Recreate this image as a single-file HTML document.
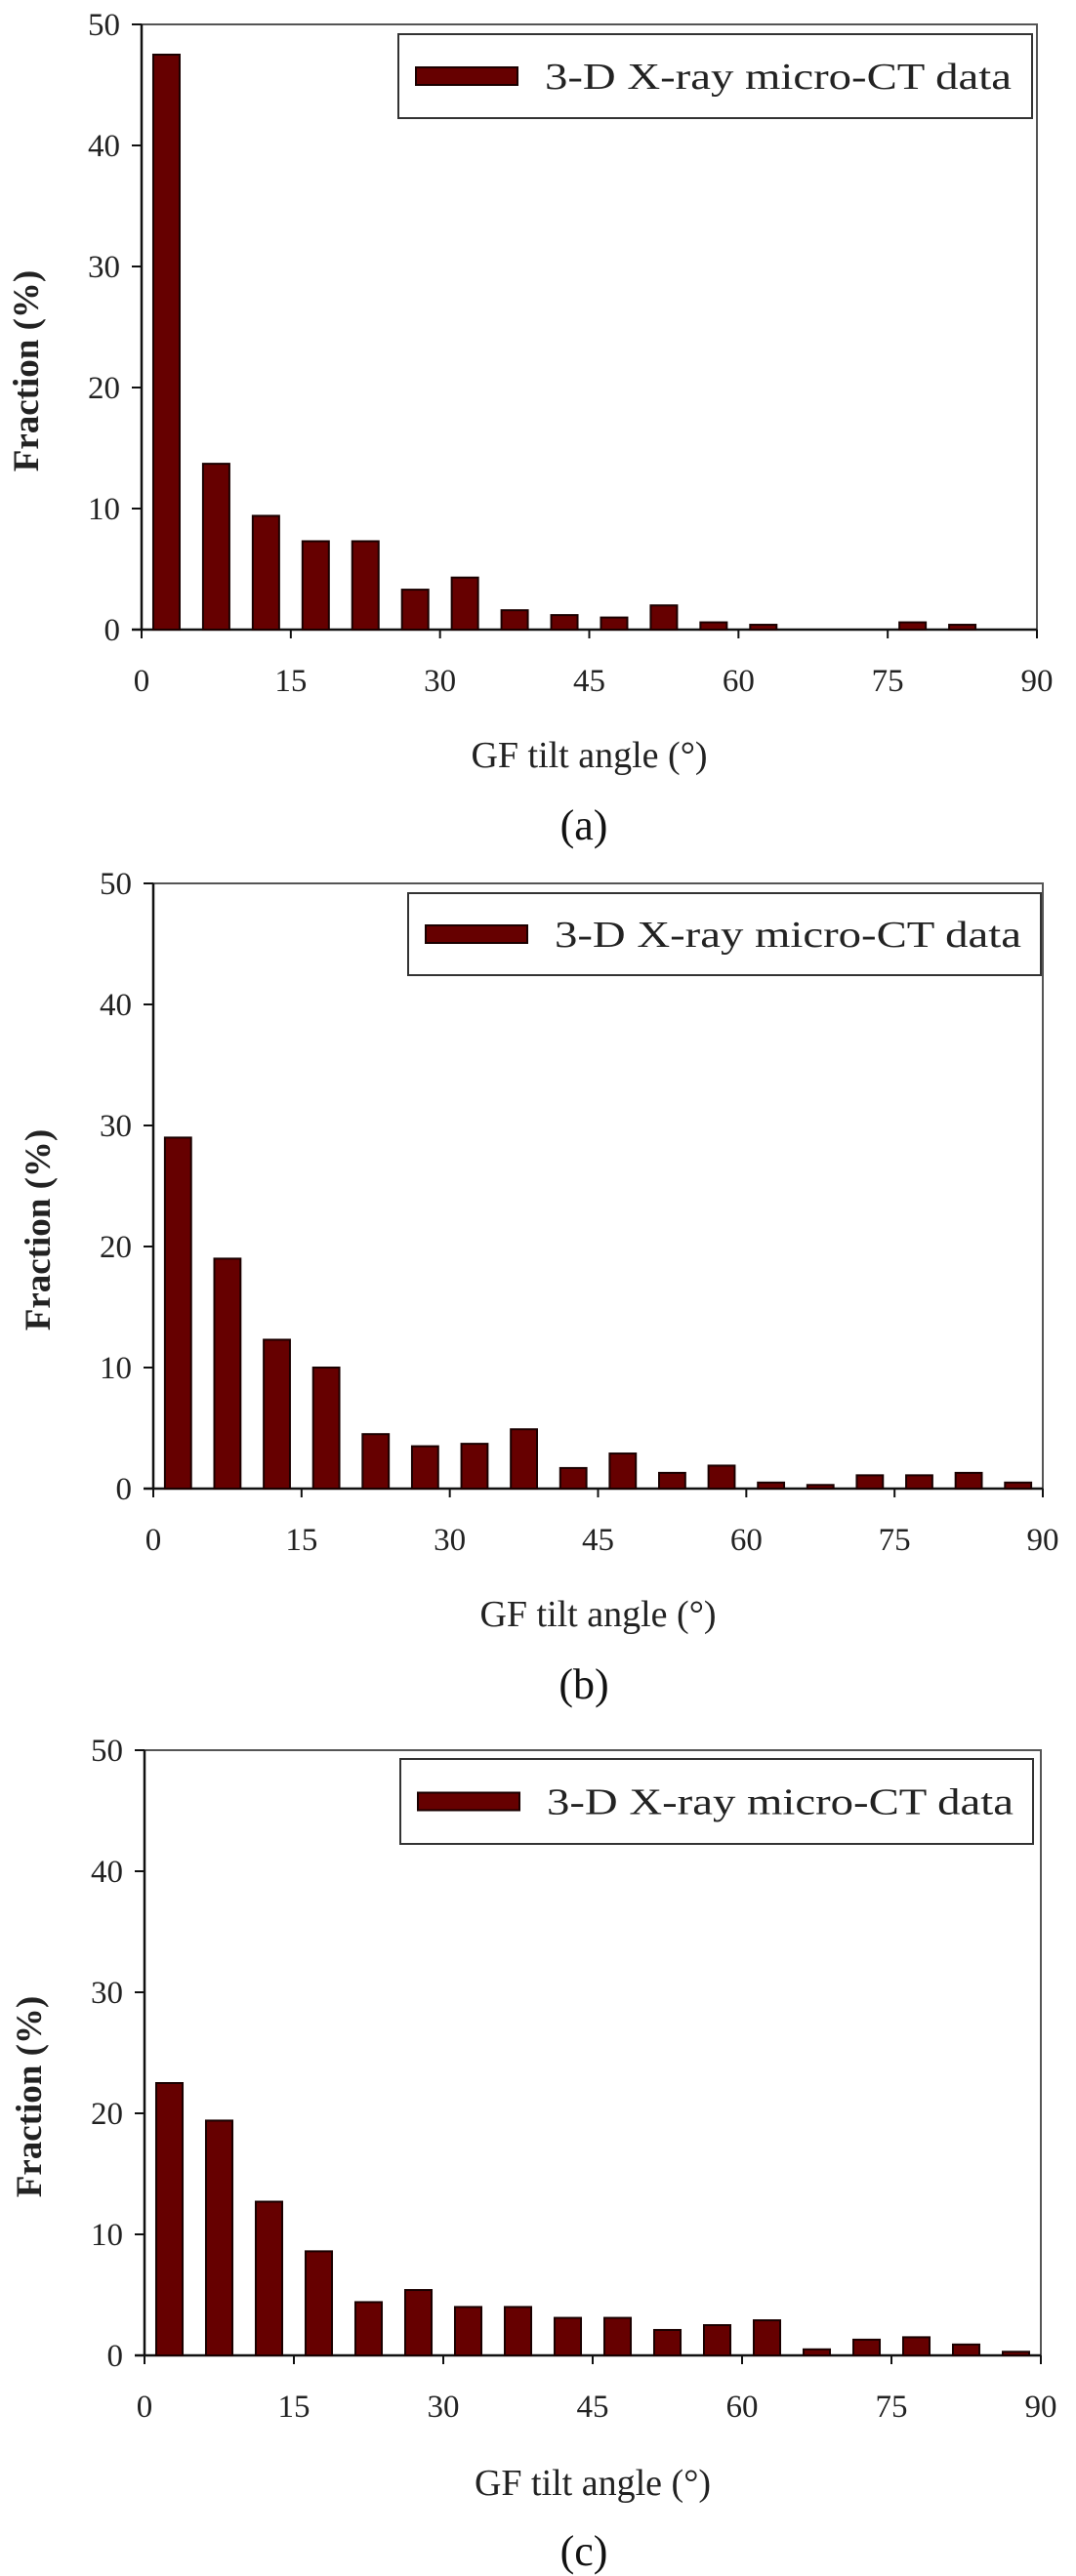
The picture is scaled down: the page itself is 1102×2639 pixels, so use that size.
<!DOCTYPE html>
<html><head><meta charset="utf-8"><style>
html,body{margin:0;padding:0;background:#fff;}
svg{display:block;font-family:"Liberation Serif",serif;}
</style></head><body>
<svg id="fig" width="1102" height="2639" viewBox="0 0 1102 2639" xmlns="http://www.w3.org/2000/svg"></svg>
<script>
const categories = [2.5,7.5,12.5,17.5,22.5,27.5,32.5,37.5,42.5,47.5,52.5,57.5,62.5,67.5,72.5,77.5,82.5,87.5];
const seriesA = [47.5,13.7,9.4,7.3,7.3,3.3,4.3,1.6,1.2,1.0,2.0,0.6,0.4,0,0,0.6,0.4,0];
const seriesB = [29,19,12.3,10,4.5,3.5,3.7,4.9,1.7,2.9,1.3,1.9,0.5,0.3,1.1,1.1,1.3,0.5];
const seriesC = [22.5,19.4,12.7,8.6,4.4,5.4,4.0,4.0,3.1,3.1,2.1,2.5,2.9,0.5,1.3,1.5,0.9,0.3];
const xTicks = [0,15,30,45,60,75,90];
const yTicks = [0,10,20,30,40,50];
const panelLabels = ["(a)","(b)","(c)"];

const NS="http://www.w3.org/2000/svg";
const svg=document.getElementById('fig');
function mk(tag,attrs,parent){const e=document.createElementNS(NS,tag);for(const k in attrs)e.setAttribute(k,attrs[k]);(parent||svg).appendChild(e);return e;}

const panels=[
 {data:seriesA,l:145,r:1062,t:25,b:645,leg:[408,35,1057,121],tickY:708,titleY:786,capY:860},
 {data:seriesB,l:157,r:1068,t:905,b:1525,leg:[418,915,1066,999],tickY:1588,titleY:1666,capY:1740},
 {data:seriesC,l:148,r:1066,t:1793,b:2413,leg:[410,1802,1058,1889],tickY:2476,titleY:2556,capY:2628}
];

panels.forEach((p,i)=>{
  const g=mk('g',{});
  
  
  const xs=v=>p.l+(v/90)*(p.r-p.l);
  const ys=v=>p.b-(v/50)*(p.b-p.t);
  // frame
  const fr=mk('rect',{x:p.l,y:p.t,width:p.r-p.l,height:p.b-p.t,fill:'none',stroke:'#555','stroke-width':2},g);
  
  
  const ax=mk('line',{x1:p.l,y1:p.t,x2:p.l,y2:p.b,stroke:'#111','stroke-width':2.5},g);
  
  
  const bx=mk('line',{x1:p.l-10,y1:p.b,x2:p.r,y2:p.b,stroke:'#111','stroke-width':2.5},g);
  
  
  // bars
  const slot=(p.r-p.l)/18, bw=slot*0.53;
  categories.forEach((c,j)=>{
    const v=p.data[j]; if(v<=0) return;
    const y=ys(v);
    const b=mk('rect',{x:xs(c)-bw/2,y:y,width:bw,height:p.b-y,fill:'#660000',stroke:'#1a0000','stroke-width':2},g);
    
    
  });
  // y ticks
  yTicks.forEach(v=>{
    mk('line',{x1:p.l-10,y1:ys(v),x2:p.l,y2:ys(v),stroke:'#111','stroke-width':2},g);
    const t=mk('text',{x:p.l-22,y:ys(v)+11,'text-anchor':'end','font-size':33,fill:'#222'},g);
    t.textContent=v;
    
    
  });
  xTicks.forEach(v=>{
    mk('line',{x1:xs(v),y1:p.b,x2:xs(v),y2:p.b+9,stroke:'#111','stroke-width':2},g);
    const t=mk('text',{x:xs(v),y:p.tickY,'text-anchor':'middle','font-size':33,fill:'#222'},g);
    t.textContent=v;
    
    
  });
  // legend
  const L=p.leg;
  const lg=mk('g',{},g);
  
  
  mk('rect',{x:L[0],y:L[1],width:L[2]-L[0],height:L[3]-L[1],fill:'#fff',stroke:'#333','stroke-width':2},lg);
  const my=(L[1]+L[3])/2;
  const sw=mk('rect',{x:L[0]+18,y:my-9,width:104,height:18,fill:'#660000',stroke:'#1a0000','stroke-width':2},lg);
  
  
  const lt=mk('text',{x:L[0]+150,y:my+13,'font-size':38,fill:'#222',textLength:478,lengthAdjust:'spacingAndGlyphs'},lg);
  lt.textContent='3-D X-ray micro-CT data';
  
  
  // y title
  const cy=(p.t+p.b)/2+45;
  const yt=mk('text',{x:0,y:0,transform:`translate(${p.l-106},${cy}) rotate(-90)`,'text-anchor':'middle','font-size':37,'font-weight':'bold',fill:'#222'},g);
  yt.textContent='Fraction (%)';
  
  
  const xt=mk('text',{x:(p.l+p.r)/2+0,y:p.titleY,'text-anchor':'middle','font-size':38,fill:'#222'},g);
  xt.textContent='GF tilt angle (°)';
  
  
  const cap=mk('text',{x:598,y:p.capY,'text-anchor':'middle','font-size':44,fill:'#111'},g);
  cap.textContent=panelLabels[i];
  
  
});
</script>
</body></html>
